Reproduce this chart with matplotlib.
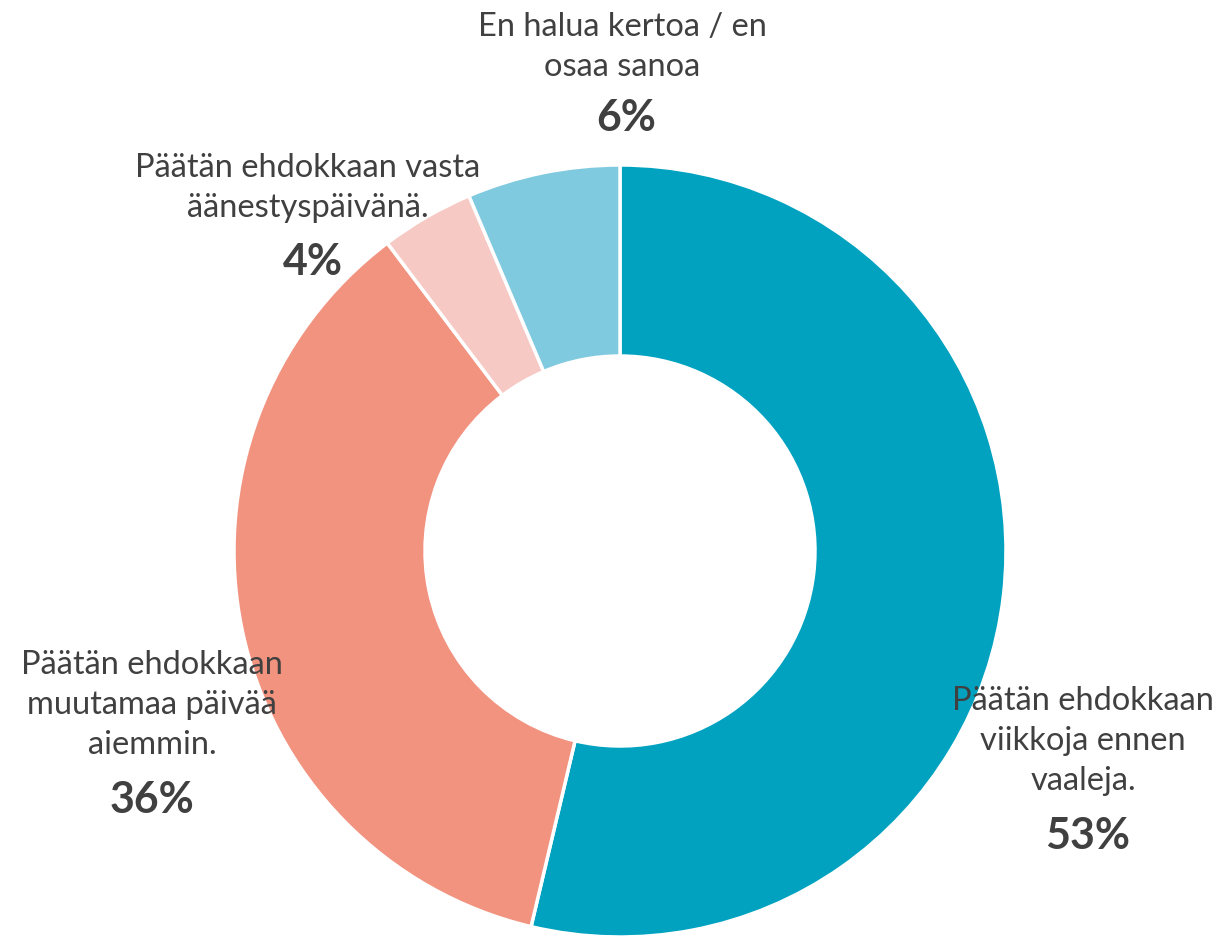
import matplotlib
matplotlib.use("Agg")
import matplotlib.pyplot as plt

labels = ["Päätän ehdokkaan\nviikkoja ennen\nvaaleja.",
          "Päätän ehdokkaan\nmuutamaa päivää\naiemmin.",
          "Päätän ehdokkaan vasta\näänestyspäivänä.",
          "En halua kertoa / en\nosaa sanoa"]
values = [53.7, 36.0, 3.9, 6.4]
pct_labels = ["53%", "36%", "4%", "6%"]
colors = ["#00A2BF", "#F29380", "#F7C9C4", "#80CAE0"]

# label layout (pixel positions of text centre: name block, percentage)
name_pos = [(1083, 741), (152, 705), (308, 188), (622, 47)]
pct_pos = [(1088, 836), (152, 800), (313, 262), (626, 118)]

W, H = 1220, 937
fig = plt.figure(figsize=(W / 100, H / 100), dpi=100)
ax = fig.add_axes([0, 0, 1, 1])
ax.set_xlim(0, W)
ax.set_ylim(0, H)
ax.set_aspect("equal")
ax.axis("off")

cx, cy, R = 620, H - 552, 386
ax.pie(values, colors=colors, startangle=90, counterclock=False,
       center=(cx, cy), radius=R,
       wedgeprops=dict(width=R - 195, edgecolor="white", linewidth=2.5))
ax.set_xlim(0, W)
ax.set_ylim(0, H)

tc = "#404040"
for lab, (x, y) in zip(labels, name_pos):
    ax.text(x, H - y, lab, ha="center", va="center", fontsize=23.5,
            family="Lato", color=tc, linespacing=1.42)
for p, (x, y) in zip(pct_labels, pct_pos):
    ax.text(x, H - y, p, ha="center", va="center", fontsize=31,
            family="Lato", weight="bold", color=tc)

fig.savefig("out.png", dpi=100)
